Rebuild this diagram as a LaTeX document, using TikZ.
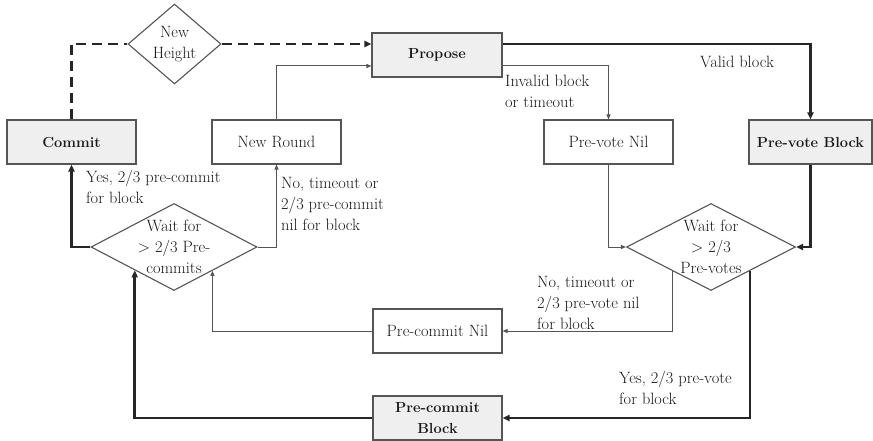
\documentclass[tikz,border=0pt]{standalone}
\usetikzlibrary{shapes.geometric,arrows.meta,calc}
\definecolor{ink}{HTML}{1A1A1A}
\definecolor{edge}{HTML}{555555}
\definecolor{boxfill}{HTML}{EFEFEF}
\begin{document}
\begin{tikzpicture}[x=1pt,y=-1pt,
  every node/.style={font=\fontsize{16.4}{21}\selectfont, text=ink},
  state/.style={draw=edge, line width=1.1pt, rectangle, minimum width=129pt,
    minimum height=44pt, inner sep=0pt},
  keystate/.style={state, fill=boxfill, font=\fontsize{14.6}{21}\selectfont\bfseries},
  choice/.style={draw=edge, line width=1.1pt, diamond, inner sep=0pt},
  note/.style={align=left, anchor=west, inner sep=0pt},
  thinflow/.style={draw=edge, line width=1pt, -{Triangle[length=5pt,width=4pt]}},
  boldflow/.style={draw=black!85, line width=2.6pt, -{Triangle[length=7pt,width=6pt]}},
  dashflow/.style={draw=black!85, line width=2.6pt, dash pattern=on 10pt off 6pt},
]
\useasboundingbox (0,0) rectangle (873,441);

% states
\node[keystate] (commit) at (71.5,142) {Commit};
\node[state] (newround) at (276.5,142) {New Round};
\node[keystate, minimum width=130pt] (propose) at (437,55) {Propose};
\node[state] (prevotenil) at (608.5,142) {Pre-vote Nil};
\node[keystate, minimum width=123pt] (prevoteblock) at (810.5,142) {Pre-vote Block};
\node[state] (precommitnil) at (437.5,331) {Pre-commit Nil};
\node[keystate, align=center] (precommitblock) at (437.5,418) {Pre-commit\\Block};

% decisions
\node[choice, minimum width=93pt, minimum height=80pt,
  label={[align=center]center:New\\Height}] (newheight) at (174.5,44) {};
\node[choice, minimum width=166pt, minimum height=87pt,
  label={[align=center]center:Wait for\\> 2/3 Pre-\\commits}] (precommits) at (174,247) {};
\node[choice, minimum width=169pt, minimum height=87pt,
  label={[align=center]center:Wait for\\> 2/3\\Pre-votes}] (prevotes) at (711,247) {};

% new height
\draw[dashflow] (commit.north) |- (newheight.west);
\draw[dashflow, -{Triangle[length=7pt,width=6pt]}] (newheight.east) -- (newheight.east -| propose.west);

% proposal
\draw[thinflow] (newround.north) |- ($(propose.west)+(0,11)$);
\draw[boldflow] ($(propose.east)+(0,-11)$) -| (prevoteblock.north);
\draw[thinflow] ($(propose.east)+(0,11)$) -| (prevotenil.north);

% pre-votes
\draw[thinflow] (prevotenil.south) |- (prevotes.west);
\draw[boldflow] (prevoteblock.south) |- (prevotes.east);
\draw[thinflow] ($(prevotes.south)!0.45!(prevotes.west)$) |- (precommitnil.east);
\draw[boldflow] ($(prevotes.south)!0.46!(prevotes.east)$) |- (precommitblock.east);

% pre-commits
\draw[thinflow] (precommitnil.west) -| ($(precommits.south)!0.46!(precommits.east)$);
\draw[boldflow] (precommitblock.west) -| ($(precommits.south)!0.47!(precommits.west)$);
\draw[boldflow] (precommits.west) -| (commit.south);
\draw[thinflow] (precommits.east) -| (newround.south);

% edge labels
\node[note] (lvalid) at (700,62) {Valid block};
\node[note] (linvalid) at (505,91) {Invalid block\\or timeout};
\node[note] (lyescommit) at (86,187) {Yes, 2/3 pre-commit\\for block};
\node[note] (lnocommit) at (281,204) {No, timeout or\\2/3 pre-commit\\nil for block};
\node[note] (lnovote) at (537,303) {No, timeout or\\2/3 pre-vote nil\\for block};
\node[note] (lyesvote) at (619,388) {Yes, 2/3 pre-vote\\for block};
\end{tikzpicture}
\end{document}
